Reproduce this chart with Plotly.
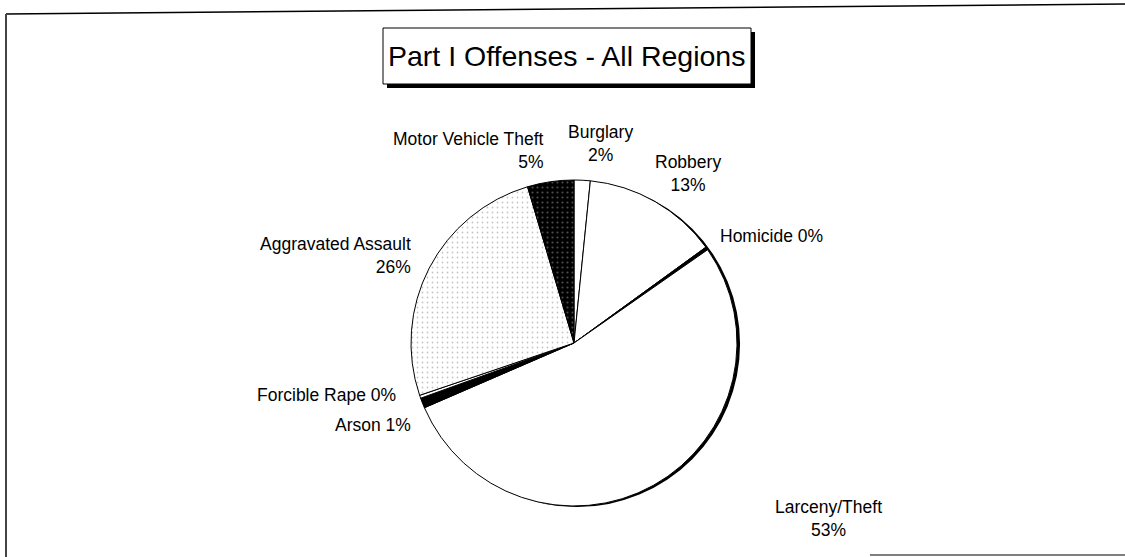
import plotly.graph_objects as go

categories = ["Burglary", "Robbery", "Homicide", "Larceny/Theft", "Arson",
              "Forcible Rape", "Aggravated Assault", "Motor Vehicle Theft"]
values = [1.6, 13.4, 0.3, 53.2, 1.0, 0.3, 25.6, 4.6]

W, H = 1125, 557


def px(x):
    return x / W


def py(y):
    return 1 - y / H


# label layout in pixels: (x, y, xanchor, single-line)
label_pos = {
    "Burglary": (600, 143, "center", False),
    "Robbery": (688, 174, "center", False),
    "Homicide": (718, 236, "left", True),
    "Larceny/Theft": (828, 518, "center", False),
    "Arson": (413, 425, "right", True),
    "Forcible Rape": (398, 395, "right", True),
    "Aggravated Assault": (413, 255, "right", False),
    "Motor Vehicle Theft": (546, 150, "right", False),
}

fills = ["white", "white", "black", "white", "black", "white", "white", "black"]
pat_shape = ["", "", "", "", "", "", ".", "."]
pat_fg = ["black", "black", "black", "black", "black", "black", "#8a8a8a", "#9a9a9a"]
pat_bg = fills
pat_sol = [0.1, 0.1, 0.1, 0.1, 0.1, 0.1, 0.1, 0.15]

# pie geometry (pixels)
cx, cy, r = 574, 343, 163
dom = dict(x=[px(cx - r), px(cx + r)], y=[py(cy + r), py(cy - r)])
dom_shadow = dict(x=[px(cx - r + 3), px(cx + r + 3)], y=[py(cy + r + 1), py(cy - r + 1)])

fig = go.Figure()
# shadow disk giving the heavy right edge
fig.add_trace(go.Pie(
    labels=["total"], values=[sum(values)], sort=False, textinfo="none",
    hoverinfo="skip", marker=dict(colors=["black"], line=dict(width=0)),
    domain=dom_shadow, showlegend=False,
))
fig.add_trace(go.Pie(
    labels=categories,
    values=values,
    sort=False,
    direction="clockwise",
    rotation=0,
    textinfo="none",
    hoverinfo="label+percent",
    marker=dict(
        colors=fills,
        line=dict(color="black", width=1),
        pattern=dict(shape=pat_shape, fgcolor=pat_fg, bgcolor=pat_bg,
                     solidity=pat_sol, size=5, fillmode="overlay"),
    ),
    domain=dom,
    showlegend=False,
))

font_fam = "Liberation Sans, Arial, Helvetica, sans-serif"
total = sum(values)
annotations = []
for cat, v in zip(categories, values):
    pct = f"{round(100 * v / total)}%"
    x, y, anchor, single = label_pos[cat]
    txt = f"{cat} {pct}" if single else f"{cat}<br>{pct}"
    annotations.append(dict(
        x=px(x), y=py(y), xref="paper", yref="paper", text=txt, showarrow=False,
        font=dict(family=font_fam, size=17.5, color="black"),
        align="center" if anchor == "center" else anchor,
        xanchor=anchor, yanchor="middle",
    ))

annotations.append(dict(
    x=px(566), y=py(56), xref="paper", yref="paper",
    text="Part I Offenses - All Regions", showarrow=False,
    font=dict(family=font_fam, size=28.5, color="black"),
    xanchor="center", yanchor="middle",
))

line_k = dict(color="black", width=1.5)
shapes = [
    # frame
    dict(type="line", xref="paper", yref="paper", x0=px(6), y0=py(14), x1=px(1125), y1=py(4), line=line_k),
    dict(type="line", xref="paper", yref="paper", x0=px(6), y0=py(14), x1=px(6), y1=py(557), line=dict(color="#444", width=2)),
    dict(type="line", xref="paper", yref="paper", x0=px(870), y0=py(555), x1=px(1125), y1=py(555), line=dict(color="#555", width=1.5)),
    # title shadow
    dict(type="rect", xref="paper", yref="paper", x0=px(387), x1=px(755), y0=py(88), y1=py(32),
         line=dict(width=0), fillcolor="black", layer="below"),
    # title box
    dict(type="rect", xref="paper", yref="paper", x0=px(383), x1=px(751), y0=py(84), y1=py(28),
         line=dict(color="black", width=1), fillcolor="white", layer="below"),
]

fig.update_layout(
    width=W, height=H,
    margin=dict(l=0, r=0, t=0, b=0),
    paper_bgcolor="white", plot_bgcolor="white",
    annotations=annotations,
    shapes=shapes,
)
fig.write_html("out.html", config={"displayModeBar": False},
               post_script="document.body.style.margin='0';document.body.style.overflow='hidden';")
